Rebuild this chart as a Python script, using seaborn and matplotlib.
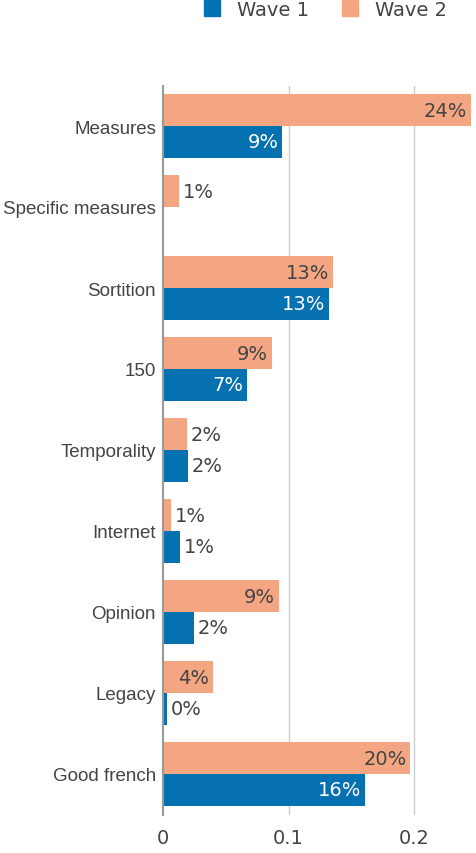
import pandas as pd
import matplotlib.pyplot as plt
import seaborn as sns
from matplotlib.lines import Line2D

# 数据
categories = ['Measures', 'Specific measures', 'Sortition', '150', 'Temporality',
              'Internet', 'Opinion', 'Legacy', 'Good french']
wave1 = [0.095, 0.0, 0.132, 0.067, 0.020, 0.0135, 0.0245, 0.003, 0.161]
wave2 = [0.245, 0.0125, 0.135, 0.0865, 0.019, 0.0065, 0.092, 0.0395, 0.197]
labels1 = ['9%', None, '13%', '7%', '2%', '1%', '2%', '0%', '16%']
labels2 = ['24%', '1%', '13%', '9%', '2%', '1%', '9%', '4%', '20%']

blue = '#0571b0'
salmon = '#f4a582'
text_grey = '#444444'

df = pd.concat([
    pd.DataFrame({'cat': categories, 'val': wave2, 'wave': 'Wave 2'}),
    pd.DataFrame({'cat': categories, 'val': wave1, 'wave': 'Wave 1'}),
])

sns.set_style('white')
plt.rcParams['font.family'] = ['DejaVu Sans']

fig = plt.figure(figsize=(4.77, 8.54), dpi=100)
ax = fig.add_axes([163 / 477, 1 - 815.5 / 854, 1 - 163 / 477, (815.5 - 86.5) / 854])

sns.barplot(data=df, y='cat', x='val', hue='wave', hue_order=['Wave 2', 'Wave 1'],
            order=categories, palette={'Wave 1': blue, 'Wave 2': salmon},
            width=0.79, dodge=True, saturation=1, legend=False, linewidth=0, ax=ax)

ax.set_xlim(0, 0.25)
ax.set_xticks([0, 0.1, 0.2])
ax.set_xticklabels(['0', '0.1', '0.2'], fontsize=14, color=text_grey)
ax.set_xlabel('')
ax.set_ylabel('')
ax.set_yticks(range(len(categories)))
ax.set_yticklabels(categories, fontsize=13.5, color=text_grey, family='Liberation Sans')
ax.tick_params(axis='y', length=0, pad=5)
ax.tick_params(axis='x', length=6, color='#bbbbbb', pad=4, direction='out')
for x in [0.1, 0.2]:
    ax.axvline(x, color='#cccccc', lw=1, zorder=0)
for s in ['top', 'right', 'bottom']:
    ax.spines[s].set_visible(False)
ax.spines['left'].set_color('#999999')
ax.spines['left'].set_linewidth(1.5)
ax.spines['left'].set_zorder(5)

# 数值标签
off = 0.79 / 4
for i in range(len(categories)):
    for val, lab, dy, col_in in [(wave2[i], labels2[i], -off, text_grey),
                                 (wave1[i], labels1[i], off, 'white')]:
        if lab is None:
            continue
        if val >= 0.03:
            ax.text(val - 0.003, i + dy, lab, ha='right', va='center', fontsize=14,
                    color=col_in)
        else:
            ax.text(val + 0.003, i + dy, lab, ha='left', va='center', fontsize=14,
                    color=text_grey)

# 图例
handles = [Line2D([], [], marker='s', ls='', color=blue, markersize=12),
           Line2D([], [], marker='s', ls='', color=salmon, markersize=12)]
fig.legend(handles, ['Wave 1', 'Wave 2'], loc='center', bbox_to_anchor=(0.68, 0.988),
           ncol=2, frameon=False, fontsize=14, labelcolor=text_grey,
           handletextpad=0.8, columnspacing=1.6, handlelength=1.0)

fig.savefig('out.png', dpi=100)
